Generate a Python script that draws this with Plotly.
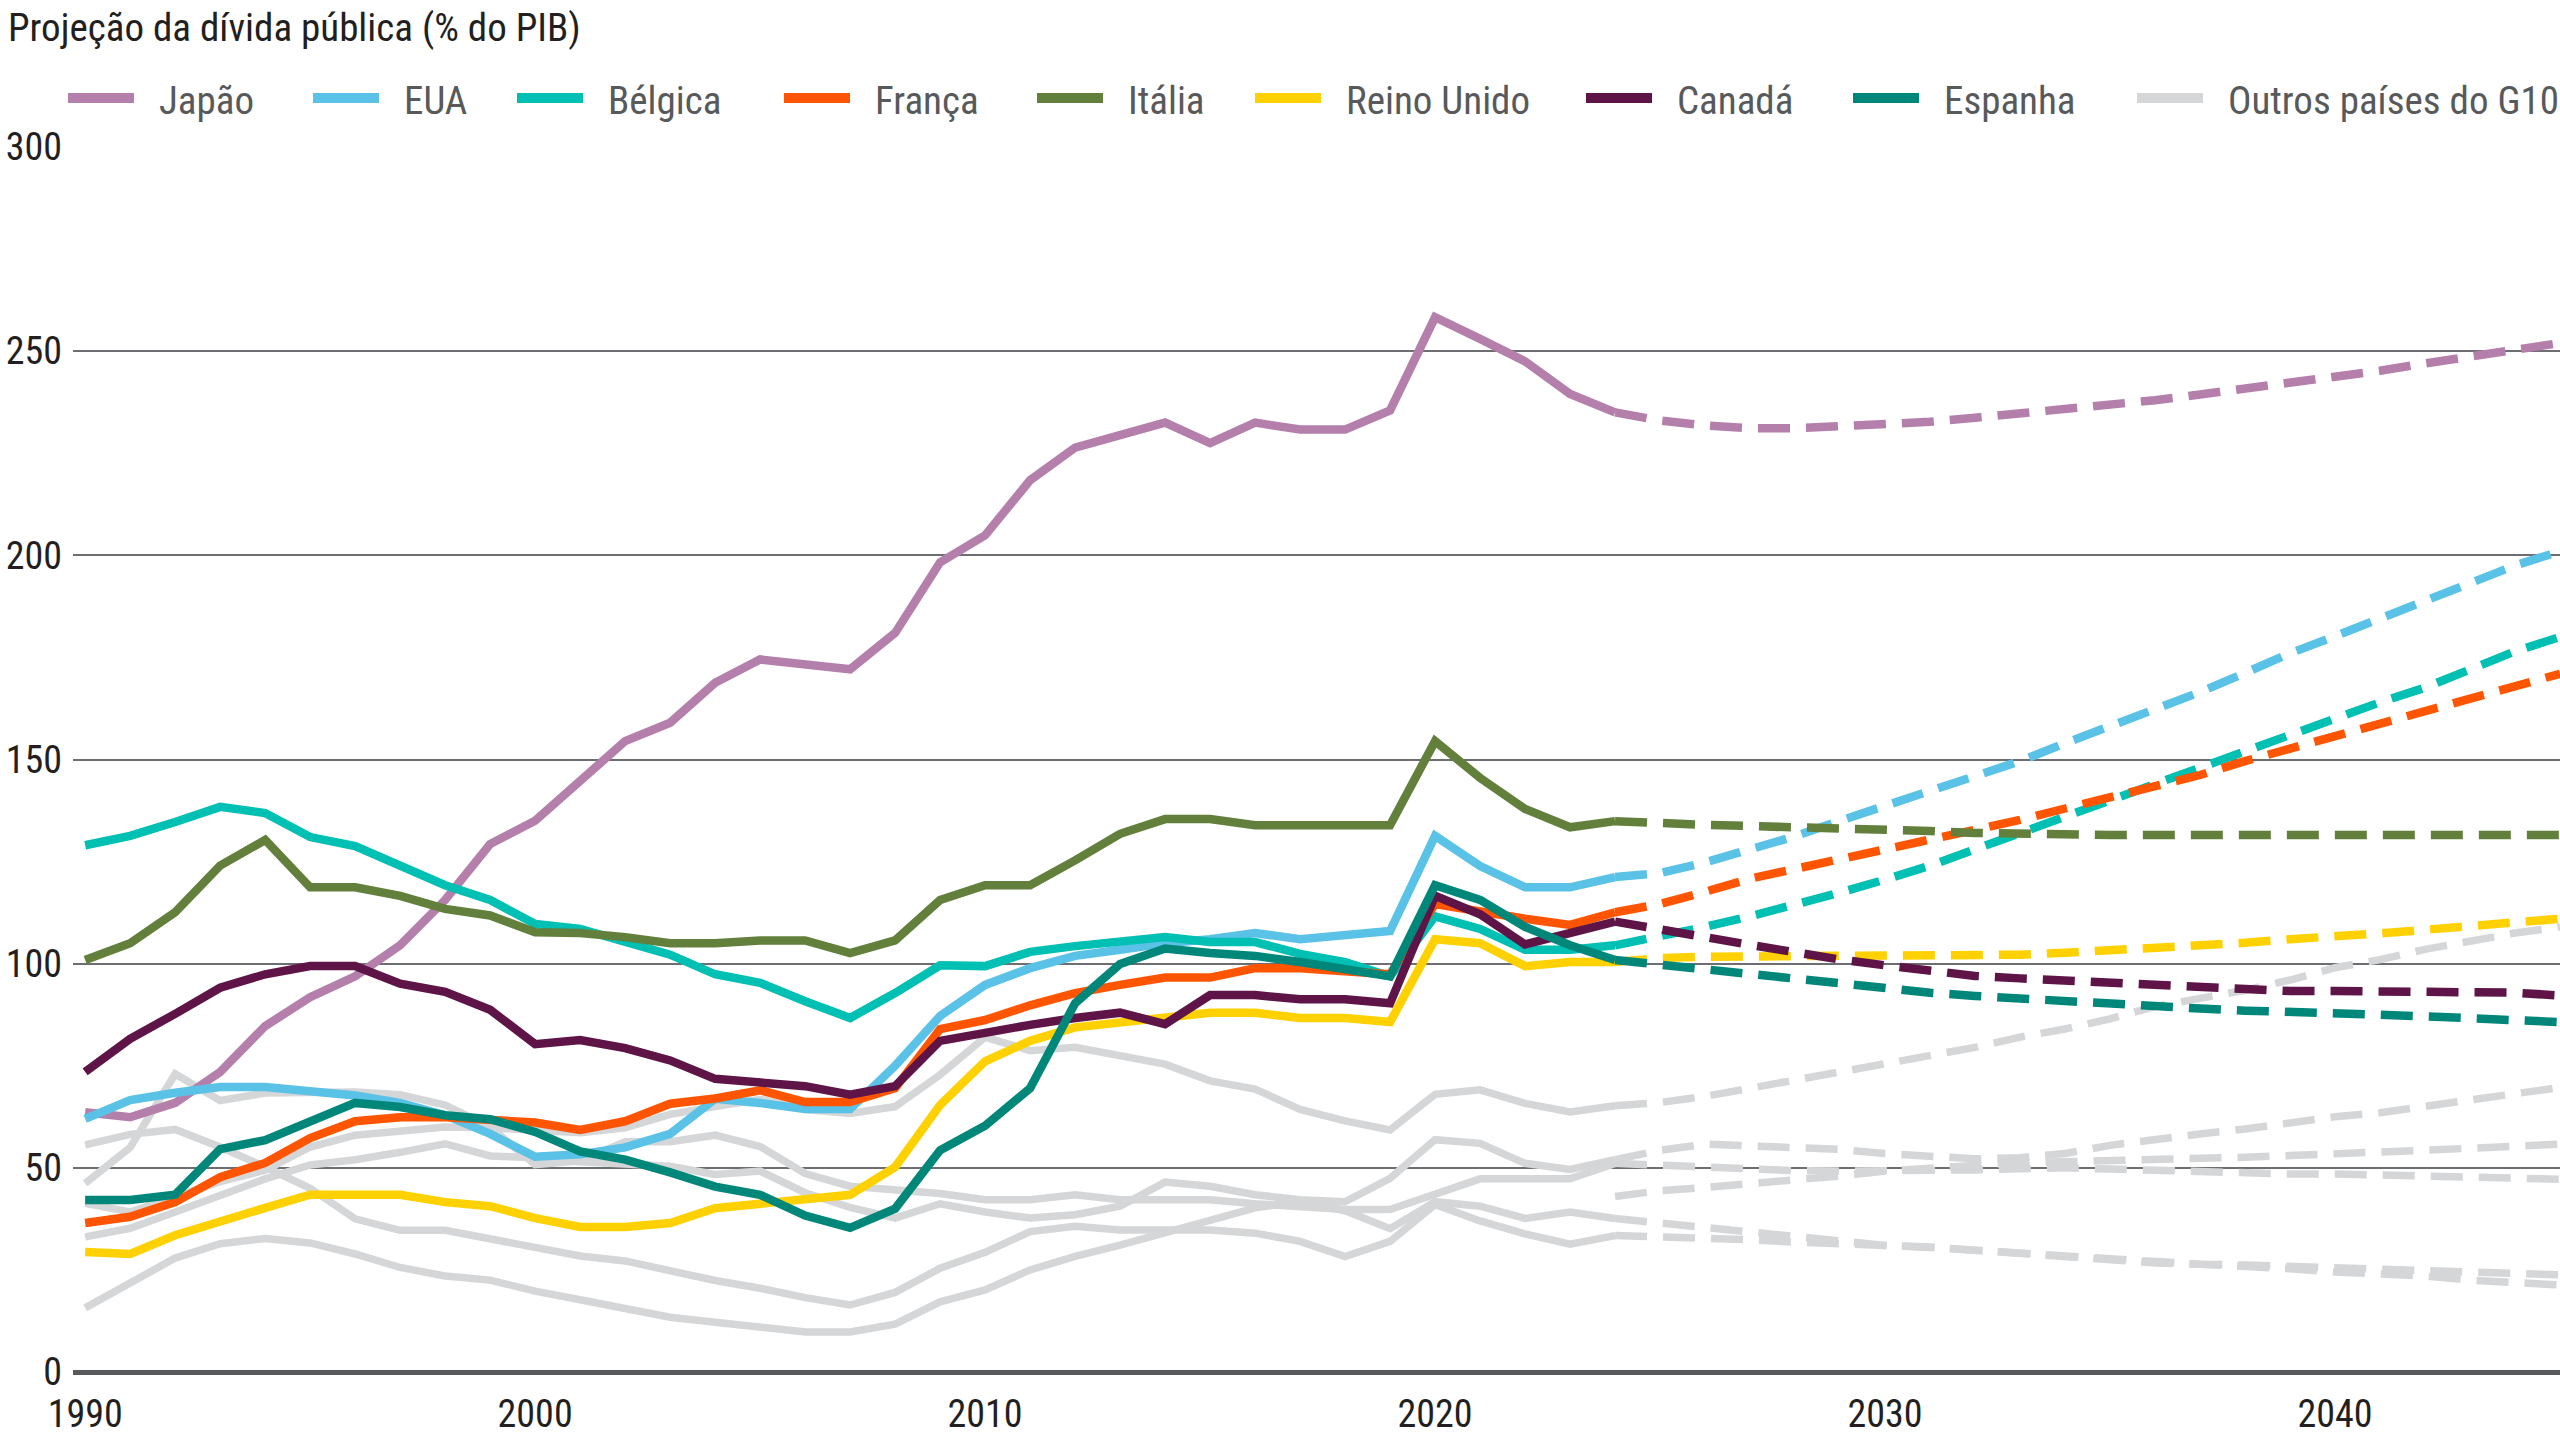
import plotly.graph_objects as go

# Anos: histórico até 2024, projeção de 2024 a 2045
years_hist = list(range(1990, 2025))
years_proj = list(range(2024, 2046))

japao_hist = [63.6, 62.4, 65.9, 73.5, 84.7, 91.8, 96.9, 104.5, 115.6, 129.3,
              135.0, 144.5, 154.5, 159.0, 168.8, 174.5, 173.3, 172.1, 181.0, 198.3,
              204.9, 218.4, 226.4, 229.2, 232.5, 227.5, 232.5, 230.8, 230.8, 235.5,
              258.3, 253.0, 247.5, 239.5, 235.0]
japao_proj = [235.0, 233.0, 231.8, 231.1, 231.1, 231.5, 232.1, 232.7, 233.7, 234.7,
              235.7, 236.8, 238.0, 239.4, 240.8, 242.2, 243.6, 245.2, 247.0, 248.6,
              250.5, 252.0]

eua_hist = [62.0, 66.6, 68.4, 69.8, 69.8, 68.8, 67.7, 65.9, 62.9, 58.3,
            52.7, 53.3, 55.0, 58.3, 66.9, 65.9, 64.4, 64.4, 75.0, 87.2,
            94.8, 98.9, 101.9, 103.4, 105.0, 106.0, 107.5, 106.0, 107.0, 108.0,
            131.3, 123.9, 118.7, 118.7, 121.2]
eua_proj = [121.2, 122.2, 124.8, 127.8, 131.2, 135.0, 138.6, 142.2, 145.8, 149.6,
            154.0, 158.2, 162.0, 166.5, 171.2, 176.0, 180.2, 184.5, 189.0, 193.4,
            197.5, 201.0]

belgica_hist = [129.0, 131.3, 134.7, 138.4, 136.9, 131.0, 128.8, 124.2, 119.2, 115.6,
                109.7, 108.5, 105.5, 102.2, 97.4, 95.3, 90.8, 86.7, 92.8, 99.6,
                99.4, 102.9, 104.3, 105.3, 106.5, 105.3, 105.3, 102.4, 100.4, 96.9,
                111.6, 108.5, 103.4, 103.4, 104.5]
belgica_proj = [104.5, 106.5, 109.0, 111.6, 114.4, 117.4, 120.6, 124.0, 128.0, 132.0,
                136.0, 140.0, 144.0, 148.0, 152.5, 156.5, 160.3, 164.0, 167.6, 172.0,
                176.5, 180.0]

franca_hist = [36.5, 38.0, 41.6, 47.7, 51.2, 57.3, 61.4, 62.4, 62.4, 61.9,
               61.1, 59.3, 61.4, 65.7, 67.0, 69.0, 66.1, 66.1, 69.5, 84.0,
               86.2, 89.8, 92.8, 94.8, 96.6, 96.6, 98.9, 98.9, 98.4, 97.4,
               114.6, 112.6, 111.0, 109.5, 112.6]
franca_proj = [112.6, 114.6, 117.6, 120.8, 123.2, 125.6, 127.8, 130.3, 132.8, 135.2,
               138.0, 140.8, 143.3, 146.2, 149.6, 152.6, 155.6, 158.8, 162.0, 165.0,
               168.0, 171.0]

italia_hist = [100.9, 105.0, 112.6, 124.0, 130.3, 118.7, 118.7, 116.6, 113.4, 111.8,
               107.7, 107.5, 106.5, 105.0, 105.0, 105.7, 105.7, 102.6, 105.7, 115.6,
               119.2, 119.2, 125.3, 131.8, 135.4, 135.4, 133.9, 133.9, 133.9, 133.9,
               154.5, 145.5, 137.9, 133.4, 134.9]
italia_proj = [134.9, 134.7, 134.0, 133.7, 133.5, 133.0, 132.7, 132.5, 132.0, 131.7,
               131.5, 131.5, 131.5, 131.5, 131.5, 131.5, 131.5, 131.5, 131.5, 131.5,
               131.5, 131.5]

reino_unido_hist = [29.4, 28.9, 33.5, 37.1, 40.2, 43.4, 43.4, 43.4, 41.6, 40.6,
                    37.7, 35.5, 35.5, 36.5, 40.1, 41.1, 42.6, 43.4, 50.2, 65.4,
                    76.1, 81.1, 84.4, 85.7, 86.7, 88.0, 88.0, 86.7, 86.7, 85.7,
                    106.0, 105.0, 99.4, 100.4, 100.4]
reino_unido_proj = [100.4, 101.4, 101.7, 101.7, 101.7, 101.7, 101.7, 101.7, 101.7, 102.2,
                    102.7, 103.2, 103.7, 104.3, 105.1, 106.0, 106.5, 107.4, 108.3, 109.3,
                    110.3, 111.0]

canada_hist = [73.5, 81.6, 87.7, 94.1, 97.4, 99.4, 99.4, 95.1, 93.1, 88.7,
               80.3, 81.3, 79.3, 76.3, 71.8, 71.0, 70.0, 67.9, 70.0, 81.1,
               83.2, 85.0, 86.7, 88.0, 85.2, 92.3, 92.3, 91.3, 91.3, 90.3,
               116.6, 112.1, 104.7, 107.5, 110.3]
canada_proj = [110.3, 108.2, 106.5, 104.6, 102.6, 101.0, 99.6, 98.3, 97.0, 96.4,
               95.9, 95.3, 94.6, 94.1, 93.6, 93.3, 93.3, 93.3, 93.3, 93.2,
               92.9, 92.2]

espanha_hist = [42.1, 42.1, 43.4, 54.6, 56.8, 61.4, 65.9, 64.9, 62.9, 61.9,
                58.8, 54.0, 52.0, 48.9, 45.4, 43.4, 38.3, 35.3, 40.0, 54.3,
                60.3, 69.5, 90.3, 99.9, 103.7, 102.6, 101.9, 100.4, 98.9, 96.9,
                119.2, 115.6, 109.0, 104.5, 100.9]
espanha_proj = [100.9, 99.7, 98.5, 97.5, 96.3, 95.2, 94.0, 92.9, 92.1, 91.4,
                90.6, 90.0, 89.5, 89.0, 88.5, 88.0, 87.8, 87.5, 87.1, 86.5,
                86.0, 85.7]

# Outros países do G10 (cinzento)
outro_a_hist = [41.3, 39.2, 42.9, 46.6, 49.4, 55.1, 58.0, 58.8, 60.0, 59.8,
                59.0, 58.6, 59.8, 63.1, 65.0, 66.8, 64.3, 63.3, 65.0, 72.8,
                82.0, 78.7, 79.5, 77.5, 75.4, 71.3, 69.3, 64.3, 61.5, 59.3,
                68.0, 69.1, 65.8, 63.7, 65.2]
outro_a_proj = [65.2, 66.0, 67.5, 69.5, 71.5, 73.5, 75.5, 77.5, 79.5, 82.0,
                84.0, 86.5, 89.5, 91.5, 93.5, 96.0, 99.0, 101.0, 103.5, 105.5,
                107.5, 109.0]

outro_b_hist = [46.2, 55.0, 73.0, 66.5, 68.3, 68.6, 68.6, 67.9, 65.4, 60.0,
                50.8, 51.7, 56.4, 56.4, 58.0, 55.2, 48.6, 45.5, 44.5, 43.7,
                42.2, 42.2, 43.4, 42.2, 42.2, 42.2, 41.2, 40.6, 39.8, 39.8,
                43.4, 47.3, 47.3, 47.3, 51.1]
outro_b_proj = [51.1, 50.6, 50.0, 49.6, 49.3, 49.2, 49.2, 49.2, 49.5, 49.8,
                50.0, 49.7, 49.3, 49.0, 48.8, 48.5, 48.5, 48.3, 48.0, 47.8,
                47.4, 47.2]

outro_c_hist = [33.1, 35.2, 39.2, 43.3, 47.3, 50.7, 52.0, 53.8, 55.9, 52.9,
                52.5, 51.5, 51.0, 50.4, 48.4, 49.2, 43.9, 40.3, 37.7, 41.2,
                39.2, 37.7, 38.5, 40.6, 46.5, 45.5, 43.4, 42.2, 41.7, 47.4,
                56.9, 56.0, 51.1, 49.6, 52.0]
outro_c_proj = [52.0, 54.3, 55.8, 55.5, 55.0, 54.5, 53.5, 52.8, 52.2, 52.5,
                53.5, 55.5, 57.0, 58.3, 59.5, 61.0, 62.5, 63.5, 65.0, 66.3,
                68.0, 69.7]

outro_d_hist = [55.6, 58.2, 59.4, 55.1, 50.2, 45.0, 37.5, 34.7, 34.7, 32.7,
                30.6, 28.4, 27.2, 24.8, 22.4, 20.5, 18.2, 16.4, 19.5, 25.4,
                29.3, 34.4, 35.7, 34.8, 34.8, 34.8, 34.0, 32.0, 28.3, 32.0,
                41.0, 37.0, 33.8, 31.3, 33.4]
outro_d_proj = [33.4, 33.2, 33.0, 32.4, 31.8, 31.2, 31.0, 30.5, 29.8, 28.8,
                28.2, 27.4, 26.8, 26.4, 26.2, 25.8, 25.4, 25.1, 25.0, 24.6,
                24.2, 23.8]

outro_e_hist = [15.7, 21.8, 27.9, 31.4, 32.7, 31.6, 28.9, 25.6, 23.5, 22.5,
                19.8, 17.7, 15.7, 13.4, 12.2, 11.2, 9.8, 9.8, 11.7, 17.2,
                20.1, 25.0, 28.3, 31.1, 34.0, 37.3, 40.2, 41.8, 39.5, 35.1,
                41.7, 40.6, 37.6, 39.2, 37.6]
outro_e_proj = [37.6, 36.5, 35.0, 34.0, 33.0, 31.7, 31.0, 30.6, 29.8, 28.8,
                28.2, 27.5, 26.7, 26.4, 26.0, 25.3, 24.5, 24.2, 23.5, 22.5,
                22.0, 21.3]

outro_f_proj = [43.0, 44.4, 45.2, 46.1, 46.8, 48.0, 49.2, 50.0, 50.8, 51.3,
                51.5, 51.7, 52.0, 52.3, 52.6, 53.0, 53.3, 53.8, 54.3, 54.8,
                55.3, 55.8]

x_ticks = [1990, 2000, 2010, 2020, 2030, 2040]
y_ticks = [0, 50, 100, 150, 200, 250, 300]

GREY = "#D5D6D8"
FONT = "Roboto Condensed, Liberation Sans Narrow, DejaVu Sans Condensed, Arial Narrow, sans-serif"

series = [
    ("Japão", "#B47FAB", japao_hist, japao_proj),
    ("EUA", "#5BC2E7", eua_hist, eua_proj),
    ("Bélgica", "#00BFB3", belgica_hist, belgica_proj),
    ("França", "#FF5500", franca_hist, franca_proj),
    ("Itália", "#62803C", italia_hist, italia_proj),
    ("Reino Unido", "#FFD100", reino_unido_hist, reino_unido_proj),
    ("Canadá", "#5E1447", canada_hist, canada_proj),
    ("Espanha", "#00877A", espanha_hist, espanha_proj),
]
outros = [
    (outro_a_hist, outro_a_proj),
    (outro_b_hist, outro_b_proj),
    (outro_c_hist, outro_c_proj),
    (outro_d_hist, outro_d_proj),
    (outro_e_hist, outro_e_proj),
    (None, outro_f_proj),
]

W, H = 2560, 1440
M_L, M_R, M_T, M_B = 73, 0, 147, 68
DASH = "32px,16px"
LW = 8.5
LW_GREY = 7.5

fig = go.Figure()

# grey lines first so that they sit under the coloured ones
for hist, proj in outros:
    if hist is not None:
        fig.add_trace(go.Scatter(x=years_hist, y=hist, mode="lines",
                                 line=dict(color=GREY, width=LW_GREY), showlegend=False,
                                 hoverinfo="skip"))
    fig.add_trace(go.Scatter(x=years_proj, y=proj, mode="lines",
                             line=dict(color=GREY, width=LW_GREY, dash=DASH), showlegend=False,
                             hoverinfo="skip"))

for name, color, hist, proj in series:
    fig.add_trace(go.Scatter(x=years_hist, y=hist, mode="lines", name=name,
                             line=dict(color=color, width=LW), showlegend=False))
    fig.add_trace(go.Scatter(x=years_proj, y=proj, mode="lines", name=name,
                             line=dict(color=color, width=LW, dash=DASH), showlegend=False))


def px_x(px):
    return (px - M_L) / (W - M_L - M_R)


def px_y(py):
    return (H - M_B - py) / (H - M_T - M_B)


# hand-made legend: long line symbols, like the original
legend_items = [(n, c) for n, c, _, _ in series] + [("Outros países do G10", GREY)]
legend_x = [64, 309, 513, 780, 1033, 1251, 1582, 1849, 2133]
shapes = []
annotations = []
for (name, color), lx in zip(legend_items, legend_x):
    shapes.append(dict(type="line", xref="paper", yref="paper",
                       x0=px_x(lx + 4), x1=px_x(lx + 70), y0=px_y(98), y1=px_y(98),
                       line=dict(color=color, width=10)))
    annotations.append(dict(text=name, xref="paper", yref="paper",
                            x=px_x(lx + 93), y=px_y(101), xanchor="left", yanchor="middle",
                            showarrow=False, font=dict(size=39, color="#58595B", family=FONT)))

annotations.append(dict(text="Projeção da dívida pública (% do PIB)", xref="paper", yref="paper",
                        x=px_x(6), y=px_y(28), xanchor="left", yanchor="middle",
                        showarrow=False, font=dict(size=39, color="#231F20", family=FONT)))

fig.update_layout(
    width=W, height=H,
    margin=dict(l=M_L, r=M_R, t=M_T, b=M_B, autoexpand=False),
    plot_bgcolor="white",
    paper_bgcolor="white",
    font=dict(family=FONT, size=38, color="#231F20"),
    shapes=shapes,
    annotations=annotations,
    showlegend=False,
    xaxis=dict(
        range=[1989.73, 2045.0],
        tickvals=x_ticks,
        showgrid=False,
        zeroline=False,
        showline=False,
        ticks="",
        ticklabelstandoff=16,
        tickfont=dict(size=38, color="#231F20", family=FONT),
    ),
    yaxis=dict(
        range=[0, 300],
        tickvals=y_ticks,
        showgrid=True,
        gridcolor="#6D6E71",
        gridwidth=2,
        zeroline=True,
        zerolinecolor="#58595B",
        zerolinewidth=5,
        showline=False,
        ticks="",
        ticklabelstandoff=10,
        tickfont=dict(size=38, color="#231F20", family=FONT),
    ),
)

fig.write_html("out.html", config={"displayModeBar": False},
               post_script="document.body.style.margin='0';")
